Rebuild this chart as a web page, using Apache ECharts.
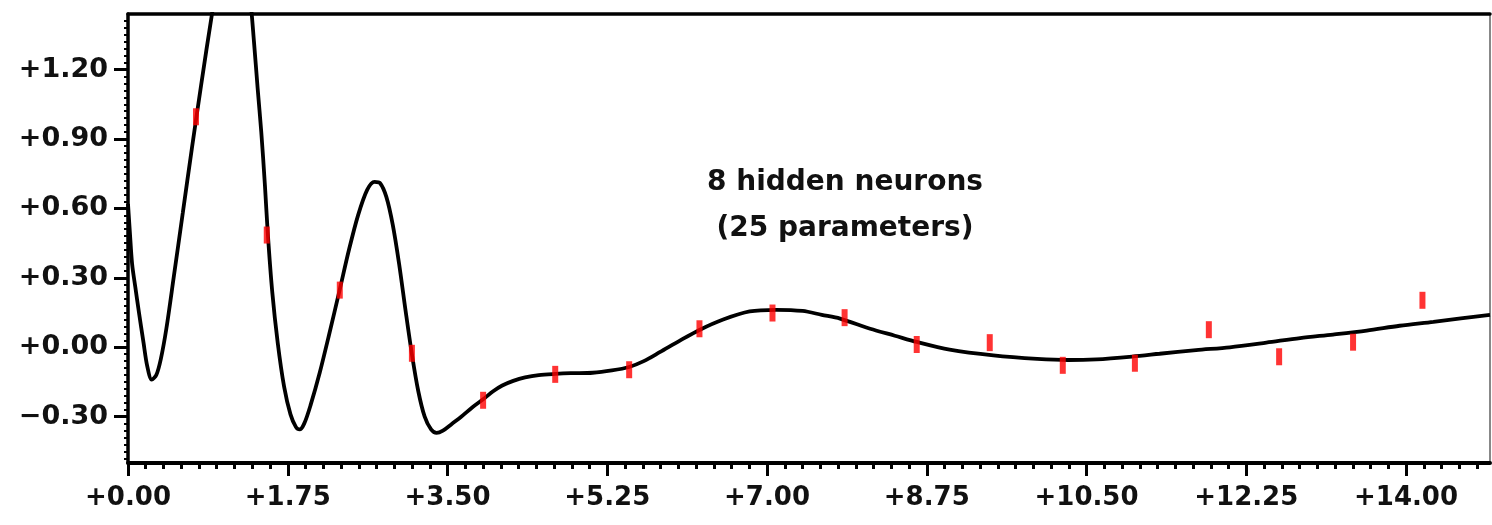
<!DOCTYPE html>
<html>
<head>
<meta charset="utf-8">
<script src="https://cdn.jsdelivr.net/npm/echarts@6/dist/echarts.min.js"></script>
<style>
html,body{margin:0;padding:0;background:#fff;}
#chart{width:1492px;height:525px;}
</style>
</head>
<body>
<div id="chart"></div>
<script>
// ---- data ----
const curveX = [0.00,0.02,0.045,0.08,0.12,0.17,0.21,0.26,0.31,0.36,0.42,0.50,0.60,0.70,0.80,0.92,1.00,1.10,1.20,1.28,1.34,1.38,1.42,1.46,1.50,1.53,1.58,1.64,1.71,1.78,1.84,1.88,1.93,2.00,2.10,2.20,2.32,2.42,2.52,2.62,2.70,2.76,2.83,2.90,2.97,3.04,3.11,3.18,3.25,3.32,3.38,3.45,3.55,3.65,3.77,3.89,4.00,4.10,4.22,4.35,4.50,4.68,4.85,5.09,5.30,5.49,5.65,5.83,6.05,6.26,6.52,6.81,7.10,7.39,7.60,7.80,8.13,8.40,8.64,9.00,9.48,9.96,10.30,10.61,11.00,11.30,11.70,12.07,12.47,12.84,13.20,13.57,13.93,14.30,14.60,14.92];
const curveY = [0.62,0.50,0.36,0.26,0.15,0.02,-0.08,-0.14,-0.12,-0.05,0.08,0.30,0.58,0.86,1.13,1.44,1.62,1.74,1.74,1.65,1.50,1.32,1.12,0.93,0.70,0.50,0.24,0.02,-0.17,-0.29,-0.345,-0.355,-0.33,-0.25,-0.11,0.05,0.25,0.42,0.57,0.68,0.715,0.71,0.65,0.53,0.36,0.16,-0.03,-0.19,-0.30,-0.355,-0.37,-0.36,-0.33,-0.30,-0.26,-0.225,-0.19,-0.165,-0.145,-0.13,-0.12,-0.115,-0.112,-0.11,-0.10,-0.085,-0.06,-0.02,0.03,0.075,0.12,0.155,0.162,0.157,0.14,0.124,0.08,0.05,0.023,-0.01,-0.035,-0.05,-0.055,-0.052,-0.04,-0.028,-0.012,0.0,0.02,0.04,0.055,0.072,0.093,0.11,0.125,0.14];
const pointX = [0.745,1.52,2.32,3.11,3.89,4.68,5.49,6.26,7.06,7.85,8.64,9.44,10.24,11.03,11.84,12.61,13.42,14.18];
const pointY = [0.996,0.485,0.247,-0.026,-0.229,-0.117,-0.097,0.08,0.148,0.128,0.012,0.02,-0.078,-0.069,0.076,-0.041,0.022,0.203];
const xTicks = [0,1.75,3.5,5.25,7,8.75,10.5,12.25,14];
const yTicks = [-0.3,0,0.3,0.6,0.9,1.2];
const annotation = '8 hidden neurons\n(25 parameters)';

// ---- minor tick positions derived from the major ticks ----
const xMinor = [];
for (let i = 0; i < 10; i++) { for (let k = 1; k < 9; k++) { const v = i*1.75 + k*1.75/9; if (v < 14.92) xMinor.push(+v.toFixed(4)); } }
const yMinor = [];
for (let i = -2; i < 6; i++) { for (let k = 1; k < 10; k++) { const v = i*0.3 + k*0.03; if (v > -0.5 && v < 1.44) yMinor.push(+v.toFixed(4)); } }

const fmt = v => (v >= 0 ? '+' : '\u2212') + Math.abs(v).toFixed(2);
const FONT = '"DejaVu Sans", sans-serif';
const XMIN = 0, XMAX = 14.92, YMIN = -0.5, YMAX = 1.44;

const chart = echarts.init(document.getElementById('chart'));
chart.setOption({
  animation: false,
  backgroundColor: '#fff',
  grid: { left: 128, right: 2, top: 14, bottom: 62, containLabel: false },
  xAxis: [
    { type: 'value', min: XMIN, max: XMAX, position: 'bottom',
      axisLine: { show: true, onZero: false, lineStyle: { color: '#000', width: 4 } },
      axisTick: { show: true, customValues: xTicks, length: 13, lineStyle: { color: '#000', width: 3 } },
      axisLabel: { show: true, customValues: xTicks, formatter: fmt, margin: 22, fontSize: 26, fontWeight: 'bold', fontFamily: FONT, color: '#111' },
      splitLine: { show: false } },
    { type: 'value', min: XMIN, max: XMAX, position: 'bottom',
      axisLine: { show: false, onZero: false },
      axisTick: { show: true, customValues: xMinor, length: 6, lineStyle: { color: '#000', width: 3 } },
      axisLabel: { show: false, customValues: xMinor },
      splitLine: { show: false } },
    { type: 'value', min: XMIN, max: XMAX, position: 'top',
      axisLine: { show: true, onZero: false, lineStyle: { color: '#000', width: 3.5 } },
      axisTick: { show: false }, axisLabel: { show: false }, splitLine: { show: false } }
  ],
  yAxis: [
    { type: 'value', min: YMIN, max: YMAX, position: 'left',
      axisLine: { show: true, onZero: false, lineStyle: { color: '#000', width: 3.5 } },
      axisTick: { show: true, customValues: yTicks, length: 14, lineStyle: { color: '#000', width: 3 } },
      axisLabel: { show: true, customValues: yTicks, formatter: fmt, margin: 20, fontSize: 27, fontWeight: 'bold', fontFamily: FONT, color: '#111' },
      splitLine: { show: false } },
    { type: 'value', min: YMIN, max: YMAX, position: 'left',
      axisLine: { show: false, onZero: false },
      axisTick: { show: true, customValues: yMinor, length: 4, lineStyle: { color: '#000', width: 2 } },
      axisLabel: { show: false, customValues: yMinor },
      splitLine: { show: false } },
    { type: 'value', min: YMIN, max: YMAX, position: 'right',
      axisLine: { show: true, onZero: false, lineStyle: { color: '#888', width: 2 } },
      axisTick: { show: false }, axisLabel: { show: false }, splitLine: { show: false } }
  ],
  graphic: [
    { type: 'text', x: 845, y: 160, z: 10,
      style: { text: annotation, font: 'bold 28px ' + FONT, textAlign: 'center', lineHeight: 46, fill: '#111' } }
  ],
  series: [
    { type: 'line', xAxisIndex: 0, yAxisIndex: 0, clip: true,
      data: curveX.map((x, i) => [x, curveY[i]]),
      showSymbol: false, symbol: 'none', smooth: 0.3,
      lineStyle: { color: '#000', width: 3.8 }, z: 2 },
    { type: 'scatter', xAxisIndex: 0, yAxisIndex: 0,
      data: pointX.map((x, i) => [x, pointY[i]]),
      symbol: 'rect', symbolSize: [6, 17],
      itemStyle: { color: '#ff0000' }, z: 3 }
  ]
});
</script>
</body>
</html>
